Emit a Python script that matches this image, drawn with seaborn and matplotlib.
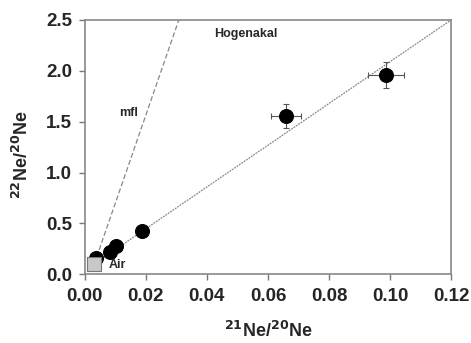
import matplotlib
matplotlib.use("Agg")
import matplotlib.pyplot as plt
import seaborn as sns
import pandas as pd

# sample data (21Ne/20Ne, 22Ne/20Ne)
ne21 = [0.0038, 0.0082, 0.0102, 0.0186, 0.0659, 0.0987]
ne22 = [0.157, 0.22, 0.276, 0.423, 1.558, 1.96]
ne21_err = [0.0, 0.0, 0.0, 0.0, 0.0049, 0.0060]
ne22_err = [0.0, 0.0, 0.0, 0.0, 0.12, 0.126]

# air composition
air_21 = [0.0031]
air_22 = [0.102]

# reference lines: mass fractionation line and Hogenakal correlation line
mfl_x = [0.0031, 0.0308]
mfl_y = [0.102, 2.5]
hog_x = [0.0031, 0.12]
hog_y = [0.102, 2.5]

sns.set_style("ticks")
plt.rcParams["font.family"] = ["Liberation Sans", "DejaVu Sans"]
plt.rcParams["font.weight"] = "bold"

fig, ax = plt.subplots(figsize=(4.71, 3.43), dpi=100)

ax.plot(mfl_x, mfl_y, color="#888888", lw=0.9, ls=(0, (4, 2)), zorder=1)
ax.plot(hog_x, hog_y, color="#888888", lw=0.9, ls=(0, (1.5, 0.8)), zorder=1)

ax.errorbar(ne21, ne22, xerr=ne21_err, yerr=ne22_err, fmt="none",
            ecolor="#555555", elinewidth=0.8, capsize=2, capthick=0.8, zorder=2)

samples = pd.DataFrame({"x": ne21, "y": ne22})
sns.scatterplot(data=samples, x="x", y="y", ax=ax, s=100, color="black",
                edgecolor="black", zorder=3, legend=False)
air = pd.DataFrame({"x": air_21, "y": air_22})
sns.scatterplot(data=air, x="x", y="y", ax=ax, marker="s", s=90,
                color="#c8c8c8", edgecolor="#777777", linewidth=0.8,
                zorder=4, legend=False)

ax.text(0.0425, 2.33, "Hogenakal", fontsize=9, fontweight="bold")
ax.text(0.0113, 1.56, "mfl", fontsize=9, fontweight="bold")
ax.text(0.0078, 0.06, "Air", fontsize=9, fontweight="bold")

ax.set_xlim(0, 0.12)
ax.set_ylim(0, 2.5)
ax.set_xticks([0, 0.02, 0.04, 0.06, 0.08, 0.10, 0.12])
ax.set_xticklabels(["0.00", "0.02", "0.04", "0.06", "0.08", "0.10", "0.12"])
ax.set_yticks([0, 0.5, 1.0, 1.5, 2.0, 2.5])
ax.set_yticklabels(["0.0", "0.5", "1.0", "1.5", "2.0", "2.5"])
ax.tick_params(labelsize=13.5, width=1, length=4, color="#777777")
ax.tick_params(axis="x", pad=6)
ax.tick_params(axis="y", pad=5)
for lab in ax.get_xticklabels() + ax.get_yticklabels():
    lab.set_fontweight("bold")
for sp in ax.spines.values():
    sp.set_visible(True)
    sp.set_color("#888888")
    sp.set_linewidth(1.2)

ax.set_xlabel(r"$\mathbf{^{21}}$Ne/$\mathbf{^{20}}$Ne", fontsize=13, fontweight="bold", labelpad=11)
ax.set_ylabel(r"$\mathbf{^{22}}$Ne/$\mathbf{^{20}}$Ne", fontsize=13, fontweight="bold")
ax.yaxis.set_label_coords(-0.145, 0.47)

fig.subplots_adjust(left=0.18, right=0.958, top=0.942, bottom=0.20)
fig.savefig("out.png", dpi=100)
